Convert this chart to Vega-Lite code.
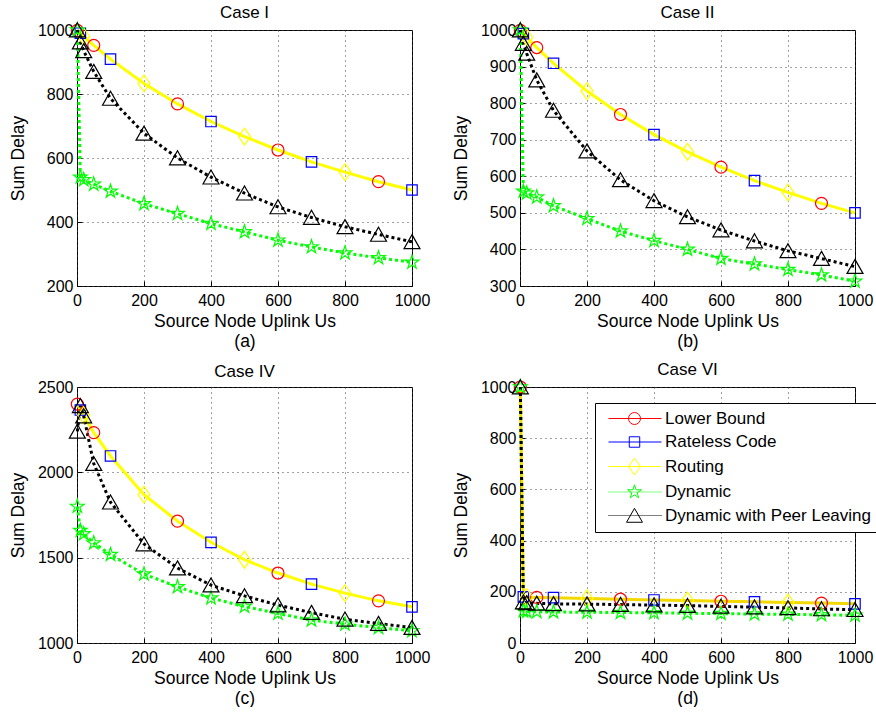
{
"$schema": "https://vega.github.io/schema/vega-lite/v6.json",
"padding": {"left": 8, "top": 3, "right": 0, "bottom": 0},
"config": {
  "font": "Liberation Sans",
  "view": {"stroke": "#000", "strokeWidth": 1},
  "axis": {"domain": false, "grid": true, "gridColor": "#444", "gridDash": [1, 4], "gridWidth": 1, "tickColor": "#000", "tickSize": -5, "labelPadding": 9, "labelFontSize": 16, "labelColor": "#000", "labelFont": "Liberation Sans", "labelFlush": false, "format": "d", "titleFont": "Liberation Sans", "titleFontSize": 17.5, "titleFontWeight": "normal", "titleColor": "#000"},
  "axisX": {"titlePadding": 4, "titleLineHeight": 20, "labelPadding": 11},
  "axisY": {"titlePadding": 10},
  "title": {"fontSize": 17, "fontWeight": "normal", "font": "Liberation Sans", "color": "#000", "offset": -2}
},
"datasets": {"d": [
{"p":"a","s":"Lower Bound","x":1,"y":999},{"p":"a","s":"Lower Bound","x":10,"y":990},{"p":"a","s":"Lower Bound","x":20,"y":980},{"p":"a","s":"Lower Bound","x":50,"y":952},{"p":"a","s":"Lower Bound","x":100,"y":909},{"p":"a","s":"Lower Bound","x":200,"y":833},{"p":"a","s":"Lower Bound","x":300,"y":769},{"p":"a","s":"Lower Bound","x":400,"y":714},{"p":"a","s":"Lower Bound","x":500,"y":667},{"p":"a","s":"Lower Bound","x":600,"y":625},{"p":"a","s":"Lower Bound","x":700,"y":588},{"p":"a","s":"Lower Bound","x":800,"y":556},{"p":"a","s":"Lower Bound","x":900,"y":526},{"p":"a","s":"Lower Bound","x":1000,"y":500},
{"p":"a","s":"Rateless Code","x":1,"y":999},{"p":"a","s":"Rateless Code","x":10,"y":990},{"p":"a","s":"Rateless Code","x":20,"y":980},{"p":"a","s":"Rateless Code","x":50,"y":952},{"p":"a","s":"Rateless Code","x":100,"y":909},{"p":"a","s":"Rateless Code","x":200,"y":833},{"p":"a","s":"Rateless Code","x":300,"y":769},{"p":"a","s":"Rateless Code","x":400,"y":714},{"p":"a","s":"Rateless Code","x":500,"y":667},{"p":"a","s":"Rateless Code","x":600,"y":625},{"p":"a","s":"Rateless Code","x":700,"y":588},{"p":"a","s":"Rateless Code","x":800,"y":556},{"p":"a","s":"Rateless Code","x":900,"y":526},{"p":"a","s":"Rateless Code","x":1000,"y":500},
{"p":"a","s":"Routing","x":1,"y":999},{"p":"a","s":"Routing","x":10,"y":990},{"p":"a","s":"Routing","x":20,"y":980},{"p":"a","s":"Routing","x":50,"y":952},{"p":"a","s":"Routing","x":100,"y":909},{"p":"a","s":"Routing","x":200,"y":833},{"p":"a","s":"Routing","x":300,"y":769},{"p":"a","s":"Routing","x":400,"y":714},{"p":"a","s":"Routing","x":500,"y":667},{"p":"a","s":"Routing","x":600,"y":625},{"p":"a","s":"Routing","x":700,"y":588},{"p":"a","s":"Routing","x":800,"y":556},{"p":"a","s":"Routing","x":900,"y":526},{"p":"a","s":"Routing","x":1000,"y":500},
{"p":"a","s":"Dynamic","x":1,"y":1000},{"p":"a","s":"Dynamic","x":10,"y":540},{"p":"a","s":"Dynamic","x":20,"y":532},{"p":"a","s":"Dynamic","x":50,"y":518},{"p":"a","s":"Dynamic","x":100,"y":496},{"p":"a","s":"Dynamic","x":200,"y":457},{"p":"a","s":"Dynamic","x":300,"y":426},{"p":"a","s":"Dynamic","x":400,"y":395},{"p":"a","s":"Dynamic","x":500,"y":369},{"p":"a","s":"Dynamic","x":600,"y":343},{"p":"a","s":"Dynamic","x":700,"y":322},{"p":"a","s":"Dynamic","x":800,"y":303},{"p":"a","s":"Dynamic","x":900,"y":288},{"p":"a","s":"Dynamic","x":1000,"y":274},
{"p":"a","s":"Dynamic with Peer Leaving","x":1,"y":1000},{"p":"a","s":"Dynamic with Peer Leaving","x":10,"y":962},{"p":"a","s":"Dynamic with Peer Leaving","x":20,"y":935},{"p":"a","s":"Dynamic with Peer Leaving","x":50,"y":870},{"p":"a","s":"Dynamic with Peer Leaving","x":100,"y":786},{"p":"a","s":"Dynamic with Peer Leaving","x":200,"y":677},{"p":"a","s":"Dynamic with Peer Leaving","x":300,"y":600},{"p":"a","s":"Dynamic with Peer Leaving","x":400,"y":540},{"p":"a","s":"Dynamic with Peer Leaving","x":500,"y":490},{"p":"a","s":"Dynamic with Peer Leaving","x":600,"y":447},{"p":"a","s":"Dynamic with Peer Leaving","x":700,"y":414},{"p":"a","s":"Dynamic with Peer Leaving","x":800,"y":385},{"p":"a","s":"Dynamic with Peer Leaving","x":900,"y":361},{"p":"a","s":"Dynamic with Peer Leaving","x":1000,"y":338},
{"p":"b","s":"Lower Bound","x":1,"y":999},{"p":"b","s":"Lower Bound","x":10,"y":990},{"p":"b","s":"Lower Bound","x":20,"y":980},{"p":"b","s":"Lower Bound","x":50,"y":952},{"p":"b","s":"Lower Bound","x":100,"y":909},{"p":"b","s":"Lower Bound","x":200,"y":833},{"p":"b","s":"Lower Bound","x":300,"y":769},{"p":"b","s":"Lower Bound","x":400,"y":714},{"p":"b","s":"Lower Bound","x":500,"y":667},{"p":"b","s":"Lower Bound","x":600,"y":625},{"p":"b","s":"Lower Bound","x":700,"y":588},{"p":"b","s":"Lower Bound","x":800,"y":556},{"p":"b","s":"Lower Bound","x":900,"y":526},{"p":"b","s":"Lower Bound","x":1000,"y":500},
{"p":"b","s":"Rateless Code","x":1,"y":999},{"p":"b","s":"Rateless Code","x":10,"y":990},{"p":"b","s":"Rateless Code","x":20,"y":980},{"p":"b","s":"Rateless Code","x":50,"y":952},{"p":"b","s":"Rateless Code","x":100,"y":909},{"p":"b","s":"Rateless Code","x":200,"y":833},{"p":"b","s":"Rateless Code","x":300,"y":769},{"p":"b","s":"Rateless Code","x":400,"y":714},{"p":"b","s":"Rateless Code","x":500,"y":667},{"p":"b","s":"Rateless Code","x":600,"y":625},{"p":"b","s":"Rateless Code","x":700,"y":588},{"p":"b","s":"Rateless Code","x":800,"y":556},{"p":"b","s":"Rateless Code","x":900,"y":526},{"p":"b","s":"Rateless Code","x":1000,"y":500},
{"p":"b","s":"Routing","x":1,"y":999},{"p":"b","s":"Routing","x":10,"y":990},{"p":"b","s":"Routing","x":20,"y":980},{"p":"b","s":"Routing","x":50,"y":952},{"p":"b","s":"Routing","x":100,"y":909},{"p":"b","s":"Routing","x":200,"y":833},{"p":"b","s":"Routing","x":300,"y":769},{"p":"b","s":"Routing","x":400,"y":714},{"p":"b","s":"Routing","x":500,"y":667},{"p":"b","s":"Routing","x":600,"y":625},{"p":"b","s":"Routing","x":700,"y":588},{"p":"b","s":"Routing","x":800,"y":556},{"p":"b","s":"Routing","x":900,"y":526},{"p":"b","s":"Routing","x":1000,"y":500},
{"p":"b","s":"Dynamic","x":1,"y":1000},{"p":"b","s":"Dynamic","x":10,"y":559},{"p":"b","s":"Dynamic","x":20,"y":554},{"p":"b","s":"Dynamic","x":50,"y":543},{"p":"b","s":"Dynamic","x":100,"y":519},{"p":"b","s":"Dynamic","x":200,"y":484},{"p":"b","s":"Dynamic","x":300,"y":450},{"p":"b","s":"Dynamic","x":400,"y":424},{"p":"b","s":"Dynamic","x":500,"y":400},{"p":"b","s":"Dynamic","x":600,"y":375},{"p":"b","s":"Dynamic","x":700,"y":360},{"p":"b","s":"Dynamic","x":800,"y":345},{"p":"b","s":"Dynamic","x":900,"y":330},{"p":"b","s":"Dynamic","x":1000,"y":313},
{"p":"b","s":"Dynamic with Peer Leaving","x":1,"y":1000},{"p":"b","s":"Dynamic with Peer Leaving","x":10,"y":963},{"p":"b","s":"Dynamic with Peer Leaving","x":20,"y":936},{"p":"b","s":"Dynamic with Peer Leaving","x":50,"y":863},{"p":"b","s":"Dynamic with Peer Leaving","x":100,"y":780},{"p":"b","s":"Dynamic with Peer Leaving","x":200,"y":669},{"p":"b","s":"Dynamic with Peer Leaving","x":300,"y":590},{"p":"b","s":"Dynamic with Peer Leaving","x":400,"y":533},{"p":"b","s":"Dynamic with Peer Leaving","x":500,"y":489},{"p":"b","s":"Dynamic with Peer Leaving","x":600,"y":453},{"p":"b","s":"Dynamic with Peer Leaving","x":700,"y":423},{"p":"b","s":"Dynamic with Peer Leaving","x":800,"y":396},{"p":"b","s":"Dynamic with Peer Leaving","x":900,"y":375},{"p":"b","s":"Dynamic with Peer Leaving","x":1000,"y":353},
{"p":"c","s":"Lower Bound","x":1,"y":2400},{"p":"c","s":"Lower Bound","x":10,"y":2365},{"p":"c","s":"Lower Bound","x":20,"y":2335},{"p":"c","s":"Lower Bound","x":50,"y":2233},{"p":"c","s":"Lower Bound","x":100,"y":2096},{"p":"c","s":"Lower Bound","x":200,"y":1869},{"p":"c","s":"Lower Bound","x":300,"y":1714},{"p":"c","s":"Lower Bound","x":400,"y":1590},{"p":"c","s":"Lower Bound","x":500,"y":1488},{"p":"c","s":"Lower Bound","x":600,"y":1410},{"p":"c","s":"Lower Bound","x":700,"y":1345},{"p":"c","s":"Lower Bound","x":800,"y":1292},{"p":"c","s":"Lower Bound","x":900,"y":1247},{"p":"c","s":"Lower Bound","x":1000,"y":1212},
{"p":"c","s":"Rateless Code","x":1,"y":2400},{"p":"c","s":"Rateless Code","x":10,"y":2365},{"p":"c","s":"Rateless Code","x":20,"y":2335},{"p":"c","s":"Rateless Code","x":50,"y":2233},{"p":"c","s":"Rateless Code","x":100,"y":2096},{"p":"c","s":"Rateless Code","x":200,"y":1869},{"p":"c","s":"Rateless Code","x":300,"y":1714},{"p":"c","s":"Rateless Code","x":400,"y":1590},{"p":"c","s":"Rateless Code","x":500,"y":1488},{"p":"c","s":"Rateless Code","x":600,"y":1410},{"p":"c","s":"Rateless Code","x":700,"y":1345},{"p":"c","s":"Rateless Code","x":800,"y":1292},{"p":"c","s":"Rateless Code","x":900,"y":1247},{"p":"c","s":"Rateless Code","x":1000,"y":1212},
{"p":"c","s":"Routing","x":1,"y":2400},{"p":"c","s":"Routing","x":10,"y":2365},{"p":"c","s":"Routing","x":20,"y":2335},{"p":"c","s":"Routing","x":50,"y":2233},{"p":"c","s":"Routing","x":100,"y":2096},{"p":"c","s":"Routing","x":200,"y":1869},{"p":"c","s":"Routing","x":300,"y":1714},{"p":"c","s":"Routing","x":400,"y":1590},{"p":"c","s":"Routing","x":500,"y":1488},{"p":"c","s":"Routing","x":600,"y":1410},{"p":"c","s":"Routing","x":700,"y":1345},{"p":"c","s":"Routing","x":800,"y":1292},{"p":"c","s":"Routing","x":900,"y":1247},{"p":"c","s":"Routing","x":1000,"y":1212},
{"p":"c","s":"Dynamic","x":1,"y":1800},{"p":"c","s":"Dynamic","x":10,"y":1659},{"p":"c","s":"Dynamic","x":20,"y":1640},{"p":"c","s":"Dynamic","x":50,"y":1586},{"p":"c","s":"Dynamic","x":100,"y":1518},{"p":"c","s":"Dynamic","x":200,"y":1404},{"p":"c","s":"Dynamic","x":300,"y":1329},{"p":"c","s":"Dynamic","x":400,"y":1263},{"p":"c","s":"Dynamic","x":500,"y":1214},{"p":"c","s":"Dynamic","x":600,"y":1173},{"p":"c","s":"Dynamic","x":700,"y":1134},{"p":"c","s":"Dynamic","x":800,"y":1110},{"p":"c","s":"Dynamic","x":900,"y":1090},{"p":"c","s":"Dynamic","x":1000,"y":1071},
{"p":"c","s":"Dynamic with Peer Leaving","x":1,"y":2240},{"p":"c","s":"Dynamic with Peer Leaving","x":10,"y":2390},{"p":"c","s":"Dynamic with Peer Leaving","x":20,"y":2330},{"p":"c","s":"Dynamic with Peer Leaving","x":50,"y":2051},{"p":"c","s":"Dynamic with Peer Leaving","x":100,"y":1825},{"p":"c","s":"Dynamic with Peer Leaving","x":200,"y":1580},{"p":"c","s":"Dynamic with Peer Leaving","x":300,"y":1439},{"p":"c","s":"Dynamic with Peer Leaving","x":400,"y":1339},{"p":"c","s":"Dynamic with Peer Leaving","x":500,"y":1276},{"p":"c","s":"Dynamic with Peer Leaving","x":600,"y":1222},{"p":"c","s":"Dynamic with Peer Leaving","x":700,"y":1178},{"p":"c","s":"Dynamic with Peer Leaving","x":800,"y":1139},{"p":"c","s":"Dynamic with Peer Leaving","x":900,"y":1114},{"p":"c","s":"Dynamic with Peer Leaving","x":1000,"y":1090},
{"p":"d","s":"Lower Bound","x":1,"y":1000},{"p":"d","s":"Lower Bound","x":10,"y":180},{"p":"d","s":"Lower Bound","x":20,"y":179},{"p":"d","s":"Lower Bound","x":50,"y":178},{"p":"d","s":"Lower Bound","x":100,"y":177},{"p":"d","s":"Lower Bound","x":200,"y":174},{"p":"d","s":"Lower Bound","x":300,"y":171},{"p":"d","s":"Lower Bound","x":400,"y":168},{"p":"d","s":"Lower Bound","x":500,"y":166},{"p":"d","s":"Lower Bound","x":600,"y":163},{"p":"d","s":"Lower Bound","x":700,"y":161},{"p":"d","s":"Lower Bound","x":800,"y":158},{"p":"d","s":"Lower Bound","x":900,"y":156},{"p":"d","s":"Lower Bound","x":1000,"y":153},
{"p":"d","s":"Rateless Code","x":1,"y":1000},{"p":"d","s":"Rateless Code","x":10,"y":180},{"p":"d","s":"Rateless Code","x":20,"y":179},{"p":"d","s":"Rateless Code","x":50,"y":178},{"p":"d","s":"Rateless Code","x":100,"y":177},{"p":"d","s":"Rateless Code","x":200,"y":174},{"p":"d","s":"Rateless Code","x":300,"y":171},{"p":"d","s":"Rateless Code","x":400,"y":168},{"p":"d","s":"Rateless Code","x":500,"y":166},{"p":"d","s":"Rateless Code","x":600,"y":163},{"p":"d","s":"Rateless Code","x":700,"y":161},{"p":"d","s":"Rateless Code","x":800,"y":158},{"p":"d","s":"Rateless Code","x":900,"y":156},{"p":"d","s":"Rateless Code","x":1000,"y":153},
{"p":"d","s":"Routing","x":1,"y":1000},{"p":"d","s":"Routing","x":10,"y":180},{"p":"d","s":"Routing","x":20,"y":179},{"p":"d","s":"Routing","x":50,"y":178},{"p":"d","s":"Routing","x":100,"y":177},{"p":"d","s":"Routing","x":200,"y":174},{"p":"d","s":"Routing","x":300,"y":171},{"p":"d","s":"Routing","x":400,"y":168},{"p":"d","s":"Routing","x":500,"y":166},{"p":"d","s":"Routing","x":600,"y":163},{"p":"d","s":"Routing","x":700,"y":161},{"p":"d","s":"Routing","x":800,"y":158},{"p":"d","s":"Routing","x":900,"y":156},{"p":"d","s":"Routing","x":1000,"y":153},
{"p":"d","s":"Dynamic","x":1,"y":1000},{"p":"d","s":"Dynamic","x":10,"y":125},{"p":"d","s":"Dynamic","x":20,"y":123},{"p":"d","s":"Dynamic","x":50,"y":122},{"p":"d","s":"Dynamic","x":100,"y":121},{"p":"d","s":"Dynamic","x":200,"y":120},{"p":"d","s":"Dynamic","x":300,"y":119},{"p":"d","s":"Dynamic","x":400,"y":118},{"p":"d","s":"Dynamic","x":500,"y":116},{"p":"d","s":"Dynamic","x":600,"y":115},{"p":"d","s":"Dynamic","x":700,"y":113},{"p":"d","s":"Dynamic","x":800,"y":112},{"p":"d","s":"Dynamic","x":900,"y":110},{"p":"d","s":"Dynamic","x":1000,"y":108},
{"p":"d","s":"Dynamic with Peer Leaving","x":1,"y":1000},{"p":"d","s":"Dynamic with Peer Leaving","x":10,"y":160},{"p":"d","s":"Dynamic with Peer Leaving","x":20,"y":157},{"p":"d","s":"Dynamic with Peer Leaving","x":50,"y":155},{"p":"d","s":"Dynamic with Peer Leaving","x":100,"y":153},{"p":"d","s":"Dynamic with Peer Leaving","x":200,"y":152},{"p":"d","s":"Dynamic with Peer Leaving","x":300,"y":150},{"p":"d","s":"Dynamic with Peer Leaving","x":400,"y":148},{"p":"d","s":"Dynamic with Peer Leaving","x":500,"y":146},{"p":"d","s":"Dynamic with Peer Leaving","x":600,"y":143},{"p":"d","s":"Dynamic with Peer Leaving","x":700,"y":140},{"p":"d","s":"Dynamic with Peer Leaving","x":800,"y":137},{"p":"d","s":"Dynamic with Peer Leaving","x":900,"y":133},{"p":"d","s":"Dynamic with Peer Leaving","x":1000,"y":130}
]},
"columns": 2,
"spacing": {"row": 101, "column": 108},
"bounds": "flush",
"resolve": {"scale": {"color": "independent", "shape": "independent", "x": "independent", "y": "independent"}},
"concat": [
{
 "width": 335, "height": 256, "title": "Case I",
 "data": {"name": "d"},
 "transform": [{"filter": "datum.p === 'a'"}],
 "encoding": {
  "x": {"field": "x", "type": "quantitative", "scale": {"domain": [0, 1000], "nice": false, "zero": false}, "axis": {"values": [0, 200, 400, 600, 800, 1000], "title": ["Source Node Uplink Us", "(a)"]}},
  "y": {"field": "y", "type": "quantitative", "scale": {"domain": [200, 1000], "nice": false, "zero": false}, "axis": {"values": [200, 400, 600, 800, 1000], "title": "Sum Delay"}},
  "color": {"field": "s", "type": "nominal", "scale": {"domain": ["Lower Bound", "Rateless Code", "Routing", "Dynamic", "Dynamic with Peer Leaving"], "range": ["#ff0000", "#0000ff", "#ffff00", "#00ff00", "#000000"]}, "legend": null}
 },
 "layer": [
  {"transform": [{"filter": "datum.s === 'Lower Bound' || datum.s === 'Rateless Code'"}], "mark": {"type": "line", "strokeWidth": 1}},
  {"transform": [{"filter": "datum.s === 'Routing'"}], "mark": {"type": "line", "strokeWidth": 3, "color": "#f2da00"}},
  {"transform": [{"filter": "datum.s === 'Dynamic' || datum.s === 'Dynamic with Peer Leaving'"}], "mark": {"type": "line", "strokeWidth": 3, "strokeDash": [3, 3]}},
  {"transform": [{"filter": "(datum.s === 'Lower Bound' && (datum.x === 1 || datum.x === 50 || datum.x === 300 || datum.x === 600 || datum.x === 900)) || (datum.s === 'Rateless Code' && (datum.x === 10 || datum.x === 100 || datum.x === 400 || datum.x === 700 || datum.x === 1000)) || (datum.s === 'Routing' && (datum.x === 20 || datum.x === 200 || datum.x === 500 || datum.x === 800)) || datum.s === 'Dynamic' || datum.s === 'Dynamic with Peer Leaving'"}],
   "mark": {"type": "point", "filled": false, "opacity": 1, "size": 144, "strokeWidth": 1.2},
   "encoding": {"shape": {"field": "s", "type": "nominal", "scale": {"domain": ["Lower Bound", "Rateless Code", "Routing", "Dynamic", "Dynamic with Peer Leaving"], "range": ["circle", "M-0.87,-0.87H0.87V0.87H-0.87Z", "M0,-1.4L1,0L0,1.4L-1,0Z", "M0,-1.2L0.27,-0.372L1.141,-0.371L0.4375,0.142L0.705,0.971L0,0.46L-0.705,0.971L-0.4375,0.142L-1.141,-0.371L-0.27,-0.372Z", "M0,-1.2L1.33,1.13L-1.33,1.13Z"]}, "legend": null}}}
 ]
},
{
 "width": 335, "height": 256, "title": "Case II",
 "data": {"name": "d"},
 "transform": [{"filter": "datum.p === 'b'"}],
 "encoding": {
  "x": {"field": "x", "type": "quantitative", "scale": {"domain": [0, 1000], "nice": false, "zero": false}, "axis": {"values": [0, 200, 400, 600, 800, 1000], "title": ["Source Node Uplink Us", "(b)"]}},
  "y": {"field": "y", "type": "quantitative", "scale": {"domain": [300, 1000], "nice": false, "zero": false}, "axis": {"values": [300, 400, 500, 600, 700, 800, 900, 1000], "title": "Sum Delay"}},
  "color": {"field": "s", "type": "nominal", "scale": {"domain": ["Lower Bound", "Rateless Code", "Routing", "Dynamic", "Dynamic with Peer Leaving"], "range": ["#ff0000", "#0000ff", "#ffff00", "#00ff00", "#000000"]}, "legend": null}
 },
 "layer": [
  {"transform": [{"filter": "datum.s === 'Lower Bound' || datum.s === 'Rateless Code'"}], "mark": {"type": "line", "strokeWidth": 1}},
  {"transform": [{"filter": "datum.s === 'Routing'"}], "mark": {"type": "line", "strokeWidth": 3, "color": "#f2da00"}},
  {"transform": [{"filter": "datum.s === 'Dynamic' || datum.s === 'Dynamic with Peer Leaving'"}], "mark": {"type": "line", "strokeWidth": 3, "strokeDash": [3, 3]}},
  {"transform": [{"filter": "(datum.s === 'Lower Bound' && (datum.x === 1 || datum.x === 50 || datum.x === 300 || datum.x === 600 || datum.x === 900)) || (datum.s === 'Rateless Code' && (datum.x === 10 || datum.x === 100 || datum.x === 400 || datum.x === 700 || datum.x === 1000)) || (datum.s === 'Routing' && (datum.x === 20 || datum.x === 200 || datum.x === 500 || datum.x === 800)) || datum.s === 'Dynamic' || datum.s === 'Dynamic with Peer Leaving'"}],
   "mark": {"type": "point", "filled": false, "opacity": 1, "size": 144, "strokeWidth": 1.2},
   "encoding": {"shape": {"field": "s", "type": "nominal", "scale": {"domain": ["Lower Bound", "Rateless Code", "Routing", "Dynamic", "Dynamic with Peer Leaving"], "range": ["circle", "M-0.87,-0.87H0.87V0.87H-0.87Z", "M0,-1.4L1,0L0,1.4L-1,0Z", "M0,-1.2L0.27,-0.372L1.141,-0.371L0.4375,0.142L0.705,0.971L0,0.46L-0.705,0.971L-0.4375,0.142L-1.141,-0.371L-0.27,-0.372Z", "M0,-1.2L1.33,1.13L-1.33,1.13Z"]}, "legend": null}}}
 ]
},
{
 "width": 335, "height": 256, "title": "Case IV",
 "data": {"name": "d"},
 "transform": [{"filter": "datum.p === 'c'"}],
 "encoding": {
  "x": {"field": "x", "type": "quantitative", "scale": {"domain": [0, 1000], "nice": false, "zero": false}, "axis": {"values": [0, 200, 400, 600, 800, 1000], "title": ["Source Node Uplink Us", "(c)"]}},
  "y": {"field": "y", "type": "quantitative", "scale": {"domain": [1000, 2500], "nice": false, "zero": false}, "axis": {"values": [1000, 1500, 2000, 2500], "title": "Sum Delay"}},
  "color": {"field": "s", "type": "nominal", "scale": {"domain": ["Lower Bound", "Rateless Code", "Routing", "Dynamic", "Dynamic with Peer Leaving"], "range": ["#ff0000", "#0000ff", "#ffff00", "#00ff00", "#000000"]}, "legend": null}
 },
 "layer": [
  {"transform": [{"filter": "datum.s === 'Lower Bound' || datum.s === 'Rateless Code'"}], "mark": {"type": "line", "strokeWidth": 1}},
  {"transform": [{"filter": "datum.s === 'Routing'"}], "mark": {"type": "line", "strokeWidth": 3, "color": "#f2da00"}},
  {"transform": [{"filter": "datum.s === 'Dynamic' || datum.s === 'Dynamic with Peer Leaving'"}], "mark": {"type": "line", "strokeWidth": 3, "strokeDash": [3, 3]}},
  {"transform": [{"filter": "(datum.s === 'Lower Bound' && (datum.x === 1 || datum.x === 50 || datum.x === 300 || datum.x === 600 || datum.x === 900)) || (datum.s === 'Rateless Code' && (datum.x === 10 || datum.x === 100 || datum.x === 400 || datum.x === 700 || datum.x === 1000)) || (datum.s === 'Routing' && (datum.x === 20 || datum.x === 200 || datum.x === 500 || datum.x === 800)) || datum.s === 'Dynamic' || datum.s === 'Dynamic with Peer Leaving'"}],
   "mark": {"type": "point", "filled": false, "opacity": 1, "size": 144, "strokeWidth": 1.2},
   "encoding": {"shape": {"field": "s", "type": "nominal", "scale": {"domain": ["Lower Bound", "Rateless Code", "Routing", "Dynamic", "Dynamic with Peer Leaving"], "range": ["circle", "M-0.87,-0.87H0.87V0.87H-0.87Z", "M0,-1.4L1,0L0,1.4L-1,0Z", "M0,-1.2L0.27,-0.372L1.141,-0.371L0.4375,0.142L0.705,0.971L0,0.46L-0.705,0.971L-0.4375,0.142L-1.141,-0.371L-0.27,-0.372Z", "M0,-1.2L1.33,1.13L-1.33,1.13Z"]}, "legend": null}}}
 ]
},
{
 "width": 335, "height": 256, "title": "Case VI",
 "data": {"name": "d"},
 "transform": [{"filter": "datum.p === 'd'"}],
 "encoding": {
  "x": {"field": "x", "type": "quantitative", "scale": {"domain": [0, 1000], "nice": false, "zero": false}, "axis": {"values": [0, 200, 400, 600, 800, 1000], "title": ["Source Node Uplink Us", "(d)"]}},
  "y": {"field": "y", "type": "quantitative", "scale": {"domain": [0, 1000], "nice": false, "zero": false}, "axis": {"values": [0, 200, 400, 600, 800, 1000], "title": "Sum Delay"}}
 },
 "resolve": {"scale": {"color": "independent", "shape": "independent"}},
 "layer": [
  {"transform": [{"filter": "datum.s === 'Lower Bound' || datum.s === 'Rateless Code'"}], "mark": {"type": "line", "strokeWidth": 1},
   "encoding": {"color": {"field": "s", "type": "nominal", "scale": {"domain": ["Lower Bound", "Rateless Code", "Routing", "Dynamic", "Dynamic with Peer Leaving"], "range": ["#ff0000", "#0000ff", "#ffff00", "#00ff00", "#000000"]}, "legend": null}}},
  {"transform": [{"filter": "datum.s === 'Routing'"}], "mark": {"type": "line", "strokeWidth": 3, "color": "#f2da00"}},
  {"transform": [{"filter": "datum.s === 'Dynamic' || datum.s === 'Dynamic with Peer Leaving'"}], "mark": {"type": "line", "strokeWidth": 3, "strokeDash": [3, 3]},
   "encoding": {"color": {"field": "s", "type": "nominal", "scale": {"domain": ["Lower Bound", "Rateless Code", "Routing", "Dynamic", "Dynamic with Peer Leaving"], "range": ["#ff0000", "#0000ff", "#ffff00", "#00ff00", "#000000"]}, "legend": null}}},
  {"transform": [{"filter": "(datum.s === 'Lower Bound' && (datum.x === 1 || datum.x === 50 || datum.x === 300 || datum.x === 600 || datum.x === 900)) || (datum.s === 'Rateless Code' && (datum.x === 10 || datum.x === 100 || datum.x === 400 || datum.x === 700 || datum.x === 1000)) || (datum.s === 'Routing' && (datum.x === 20 || datum.x === 200 || datum.x === 500 || datum.x === 800)) || datum.s === 'Dynamic' || datum.s === 'Dynamic with Peer Leaving'"}],
   "mark": {"type": "point", "filled": false, "opacity": 1, "size": 144, "strokeWidth": 1.2},
   "encoding": {
    "color": {"field": "s", "type": "nominal", "scale": {"domain": ["Lower Bound", "Rateless Code", "Routing", "Dynamic", "Dynamic with Peer Leaving"], "range": ["#ff0000", "#0000ff", "#ffff00", "#00ff00", "#000000"]}, "legend": null},
    "shape": {"field": "s", "type": "nominal", "scale": {"domain": ["Lower Bound", "Rateless Code", "Routing", "Dynamic", "Dynamic with Peer Leaving"], "range": ["circle", "M-0.87,-0.87H0.87V0.87H-0.87Z", "M0,-1.4L1,0L0,1.4L-1,0Z", "M0,-1.2L0.27,-0.372L1.141,-0.371L0.4375,0.142L0.705,0.971L0,0.46L-0.705,0.971L-0.4375,0.142L-1.141,-0.371L-0.27,-0.372Z", "M0,-1.2L1.33,1.13L-1.33,1.13Z"]}, "legend": null}}},
  {"transform": [{"filter": "datum.x < 0"}],
   "mark": {"type": "point", "filled": false, "opacity": 1, "size": 144, "strokeWidth": 1},
   "encoding": {
    "color": {"field": "s", "type": "nominal", "scale": {"domain": ["Lower Bound", "Rateless Code", "Routing", "Dynamic", "Dynamic with Peer Leaving"], "range": ["#ff0000", "#0000ff", "#ffff00", "#00ff00", "#000000"]},
      "legend": {"orient": "none", "legendX": 75, "legendY": 16, "title": null, "padding": 7, "strokeColor": "#000", "fillColor": "#fff", "cornerRadius": 0, "symbolSize": 144, "symbolStrokeWidth": 1, "labelFontSize": 17, "labelFont": "Liberation Sans", "labelColor": "#000", "labelOffset": 46, "labelLimit": 400, "rowPadding": 5.5}},
    "shape": {"field": "s", "type": "nominal", "scale": {"domain": ["Lower Bound", "Rateless Code", "Routing", "Dynamic", "Dynamic with Peer Leaving"], "range": [
      "M-0.333,0H8.5M5,0L4.924,0.383L4.707,0.707L4.383,0.924L4,1L3.617,0.924L3.293,0.707L3.076,0.383L3,0L3.076,-0.383L3.293,-0.707L3.617,-0.924L4,-1L4.383,-0.924L4.707,-0.707L4.924,-0.383Z",
      "M-0.333,0H8.5M3.13,-0.87H4.87V0.87H3.13Z",
      "M-0.333,0H8.5M4,-1.4L5,0L4,1.4L3,0Z",
      "M-0.333,0H-0.167M0,0H0.167M0.333,0H0.5M0.667,0H0.833M1,0H1.167M1.333,0H1.5M1.667,0H1.833M2,0H2.167M2.333,0H2.5M2.667,0H2.833M3,0H3.167M3.333,0H3.5M3.667,0H3.833M4,0H4.167M4.333,0H4.5M4.667,0H4.833M5,0H5.167M5.333,0H5.5M5.667,0H5.833M6,0H6.167M6.333,0H6.5M6.667,0H6.833M7,0H7.167M7.333,0H7.5M7.667,0H7.833M8,0H8.167M8.333,0H8.5M4,-1.2L4.27,-0.372L5.141,-0.371L4.4375,0.142L4.705,0.971L4,0.46L3.295,0.971L3.5625,0.142L2.859,-0.371L3.73,-0.372Z",
      "M-0.333,0H-0.167M0,0H0.167M0.333,0H0.5M0.667,0H0.833M1,0H1.167M1.333,0H1.5M1.667,0H1.833M2,0H2.167M2.333,0H2.5M2.667,0H2.833M3,0H3.167M3.333,0H3.5M3.667,0H3.833M4,0H4.167M4.333,0H4.5M4.667,0H4.833M5,0H5.167M5.333,0H5.5M5.667,0H5.833M6,0H6.167M6.333,0H6.5M6.667,0H6.833M7,0H7.167M7.333,0H7.5M7.667,0H7.833M8,0H8.167M8.333,0H8.5M4,-1.2L5.33,1.13L2.67,1.13Z"]},
      "legend": {"orient": "none", "legendX": 75, "legendY": 16, "title": null, "padding": 7, "strokeColor": "#000", "fillColor": "#fff", "cornerRadius": 0, "symbolSize": 144, "symbolStrokeWidth": 1, "labelFontSize": 17, "labelFont": "Liberation Sans", "labelColor": "#000", "labelOffset": 46, "labelLimit": 400, "rowPadding": 5.5}}}}
 ]
}
]
}
